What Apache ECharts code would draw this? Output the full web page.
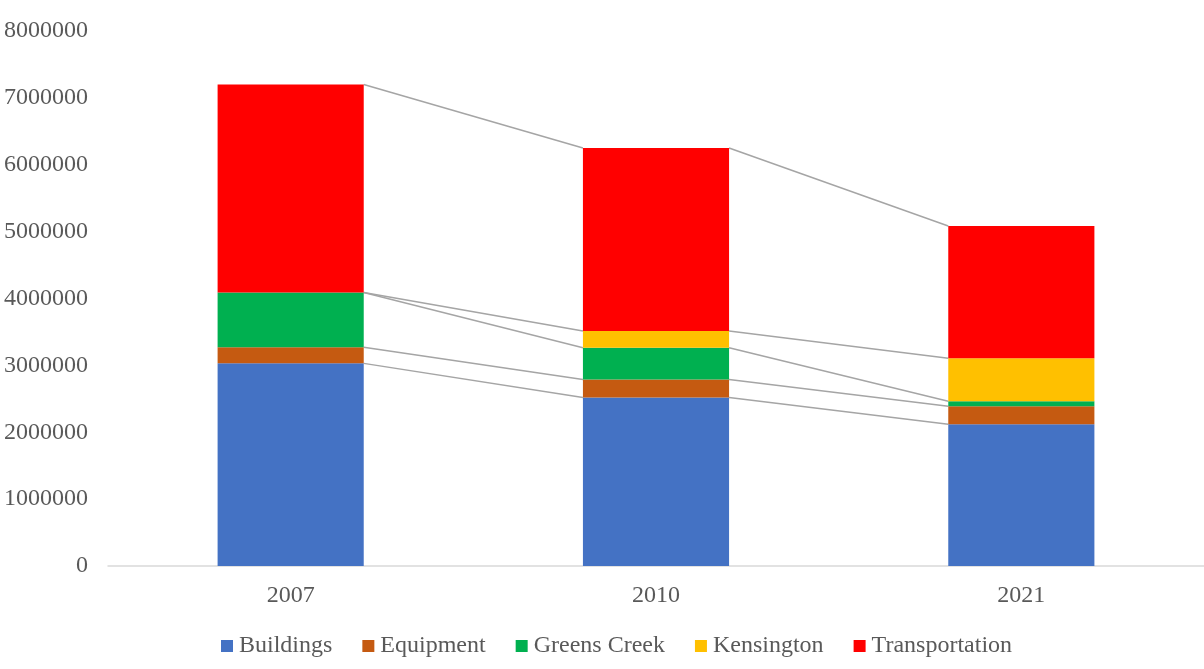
<!DOCTYPE html>
<html>
<head>
<meta charset="utf-8">
<script src="https://cdn.jsdelivr.net/npm/echarts@6/dist/echarts.min.js"></script>
<style>
  html, body { margin: 0; padding: 0; background: #fff; }
  #chart { width: 1204px; height: 669px; }
</style>
</head>
<body>
<div id="chart"></div>
<script>
// Emissions by source for each inventory year (stacked)
const categories = ['2007', '2010', '2021'];
const buildings = [3030000, 2520000, 2120000];
const equipment = [240000, 270000, 270000];
const greensCreek = [820000, 475000, 75000];
const kensington = [0, 250000, 640000];
const transportation = [3110000, 2735000, 1980000];

const seriesNames = ['Buildings', 'Equipment', 'Greens Creek', 'Kensington', 'Transportation'];
const seriesValues = [buildings, equipment, greensCreek, kensington, transportation];
const seriesColors = ['#4472c4', '#c55a11', '#00b050', '#ffc000', '#ff0000'];
const yTicks = { min: 0, max: 8000000, interval: 1000000 };

const FONT = '"Liberation Serif", "Times New Roman", serif';
const BAR_RATIO = 0.4;

// Connector lines joining the top of each stacked segment between neighbouring bars
const connectorData = [];
const running = categories.map(() => 0);
seriesValues.forEach(vals => {
  const tops = vals.map((v, i) => (running[i] += v));
  for (let i = 0; i < categories.length - 1; i++) {
    connectorData.push([i, tops[i], tops[i + 1]]);
  }
});

const chart = echarts.init(document.getElementById('chart'));
chart.setOption({
  animation: false,
  backgroundColor: '#ffffff',
  grid: { left: 108, right: 0, top: 31, bottom: 103 },
  legend: {
    data: seriesNames,
    top: 634,
    left: 221,
    padding: 0,
    itemWidth: 12,
    itemHeight: 12,
    itemGap: 30,
    icon: 'rect',
    textStyle: { fontFamily: FONT, fontSize: 24, color: '#595959', padding: [0, 0, 0, 1] }
  },
  xAxis: {
    type: 'category',
    data: categories,
    axisLine: { lineStyle: { color: '#d9d9d9', width: 1.5 } },
    axisTick: { show: false },
    axisLabel: { fontFamily: FONT, fontSize: 24, color: '#595959', margin: 18 }
  },
  yAxis: {
    type: 'value',
    min: yTicks.min,
    max: yTicks.max,
    interval: yTicks.interval,
    axisLine: { show: false },
    axisTick: { show: false },
    splitLine: { show: false },
    axisLabel: {
      fontFamily: FONT, fontSize: 24, color: '#595959', margin: 20,
      formatter: v => String(v)
    }
  },
  series: [
    {
      type: 'custom',
      name: 'connectors',
      z: 1,
      silent: true,
      data: connectorData,
      encode: { x: 0, y: [1, 2] },
      renderItem: function (params, api) {
        const i = api.value(0);
        const a = api.coord([i, api.value(1)]);
        const b = api.coord([i + 1, api.value(2)]);
        const half = api.size([1, 0])[0] * BAR_RATIO / 2;
        return {
          type: 'line',
          shape: { x1: a[0] + half, y1: a[1], x2: b[0] - half, y2: b[1] },
          style: { stroke: '#a5a5a5', lineWidth: 1.5 }
        };
      }
    }
  ].concat(seriesNames.map((name, k) => ({
    type: 'bar',
    name: name,
    stack: 'total',
    barWidth: (BAR_RATIO * 100) + '%',
    z: 2,
    itemStyle: { color: seriesColors[k] },
    data: seriesValues[k]
  })))
});
</script>
</body>
</html>
